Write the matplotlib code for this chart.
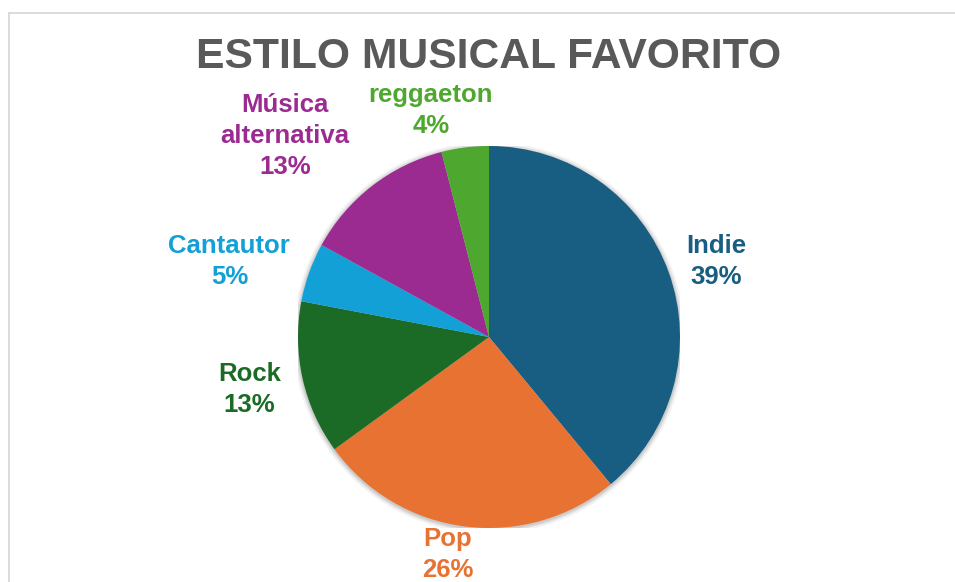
import matplotlib
matplotlib.use('Agg')
import matplotlib.pyplot as plt
import numpy as np

plt.rcParams['font.family'] = ['Liberation Sans', 'DejaVu Sans']

labels = ['Indie', 'Pop', 'Rock', 'Cantautor', 'Música\nalternativa', 'reggaeton']
values = [39, 26, 13, 5, 13, 4]
colors = ['#175E82', '#E87232', '#1B6B26', '#12A0D7', '#9C2B91', '#4EA72E']

# label placement: distance from centre (radius units) and angle tweak (deg)
lab_dist = [1.26, 1.145, 1.28, 1.42, 1.51, 1.24]
lab_dang = [-0.8, -3.6, -1.0, 3.0, 7.2, 7.0]

W, H = 955, 582
fig = plt.figure(figsize=(W / 100, H / 100), dpi=100)
fig.patch.set_facecolor('white')

# thin light grey chart border (cut by the image edge right/bottom)
fig.add_artist(plt.Line2D([9 / W, 9 / W], [0, 1 - 13 / H], color='#D9D9D9', lw=1.3))
fig.add_artist(plt.Line2D([9 / W, 1], [1 - 13 / H, 1 - 13 / H], color='#D9D9D9', lw=1.3))

cx, cy, r = 489, 337, 191
ax = fig.add_axes([(cx - r) / W, (H - cy - r) / H, 2 * r / W, 2 * r / H])

# soft shadow behind the pie
for k, a in zip([1.025, 1.015, 1.007], [0.05, 0.07, 0.09]):
    ax.add_patch(plt.Circle((0, -0.005), k, color='black', alpha=a, lw=0, zorder=0))

wedges, _ = ax.pie(values, colors=colors, startangle=90, counterclock=False,
                   radius=1, wedgeprops=dict(linewidth=0), normalize=True)
ax.set_xlim(-1, 1)
ax.set_ylim(-1, 1)
ax.set_aspect('equal')
ax.axis('off')

total = sum(values)
for w, lbl, v, col, d, da in zip(wedges, labels, values, colors, lab_dist, lab_dang):
    mid = np.deg2rad((w.theta1 + w.theta2) / 2 + da)
    x, y = d * np.cos(mid), d * np.sin(mid) - 0.015
    ax.text(x, y, f'{lbl}\n{round(v / total * 100)}%', ha='center', va='center',
            fontsize=18.5, fontweight='bold', color=col, linespacing=1.37,
            clip_on=False)

fig.text(488.5 / W, 1 - 57 / H, 'ESTILO MUSICAL FAVORITO', ha='center', va='center',
         fontsize=30.7, fontweight='bold', color='#595959')

fig.savefig('out.png', dpi=100, facecolor='white')
